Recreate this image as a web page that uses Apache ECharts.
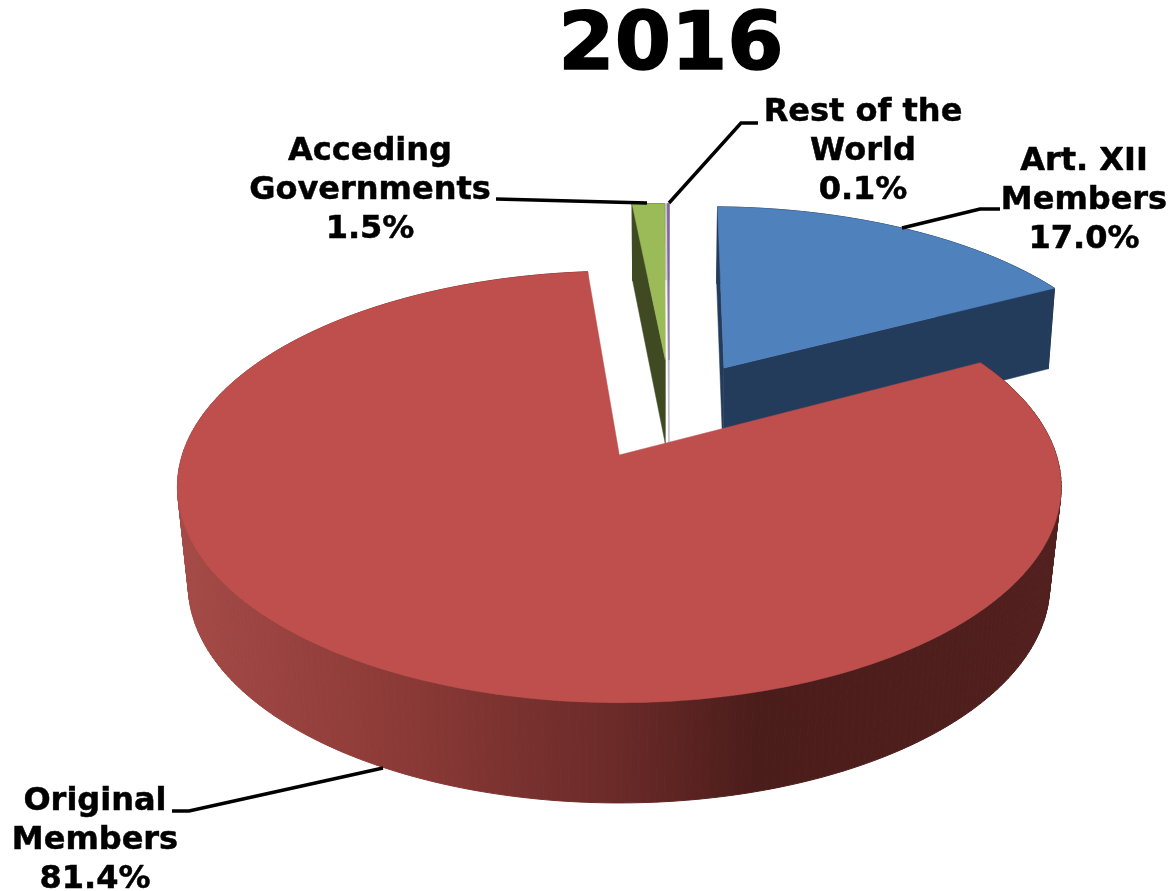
<!DOCTYPE html>
<html>
<head>
<meta charset="utf-8">
<style>html,body{margin:0;padding:0;background:#fff}#c{width:1170px;height:891px}</style>
<script src="https://cdn.jsdelivr.net/npm/echarts@6/dist/echarts.min.js"></script>
</head>
<body>
<div id="c"></div>
<script>
// Data
const titleText = '2016';
const categories = ['Art. XII Members', 'Original Members', 'Acceding Governments', 'Rest of the World'];
const shares = [17.0, 81.4, 1.5, 0.1];
const labelLines = [['Art. XII', 'Members'], ['Original', 'Members'], ['Acceding', 'Governments'], ['Rest of the', 'World']];

// Style: per-slice look
const topColors = ['#4f81bd', '#be4f4d', '#9bbb59', '#8064a2'];
const cutColors = ['#243c5c', '#4a1c1a', '#3f4a22', '#b9b6c2'];
const wallStops = [
  [[0, '#243c5c'], [1, '#243c5c']],
  [[0, '#a54a47'], [0.25, '#8c3a37'], [0.5, '#6a2a28'], [0.66, '#4a1c1a'], [1, '#52201e']],
  [[0, '#3f4a22'], [1, '#3f4a22']],
  [[0, '#b9b6c2'], [1, '#b9b6c2']]
];
const explode = [[0.255, 0.439], [0, 0], [0.113, 0.482], [0.122, 0.482]];
const spinStart = [1, 0.9, 1.16, 1.0];
const spinEnd = [1.2, 1.0, 1.16, 1.0];
const radius = [0.985, 1, 0.965, 0.965];
const labelPos = [[1084, 162], [95, 802], [370, 152], [863, 113]];
const leaders = [
  [[902, 228], [980, 209], [1000, 209]],
  [[383, 768], [189, 811], [172, 811]],
  [[496, 199], [647, 203]],
  [[669, 203], [741, 123], [758, 123]]
];
const fontFamily = '"DejaVu Sans", Verdana, sans-serif';
const labelSize = 32, lineGap = 38.8;

// Projection
const PERSP = 0.148;
const topFace = {cx: 619.3, cy: 455, a: 437, b: 211};
const backBase = {cx: 620, cy: 543.5, a: 430, b: 221};
const frontBase = {cx: 619, cy: 552.7, a: 426, b: 213.2};
const baseFaces = [backBase, frontBase, backBase, backBase];
function project(face, u, v) {
  const d = 1 + PERSP * v;
  return [face.cx + face.a * u / d, face.cy - face.b * v / d];
}
const total = shares.reduce((s, x) => s + x, 0);
const starts = [];
shares.reduce((acc, x, i) => { starts[i] = acc; return acc + x; }, 0);

function sliceShapes(i) {
  const a0 = starts[i] / total * 360 + spinStart[i];
  const a1 = (starts[i] + shares[i]) / total * 360 + spinEnd[i];
  const ex = explode[i], r = radius[i], botFace = baseFaces[i];
  const rim = (face, deg) => {
    const t = deg * Math.PI / 180;
    return project(face, ex[0] + r * Math.sin(t), ex[1] + r * Math.cos(t));
  };
  const steps = Math.max(2, Math.ceil(a1 - a0));
  const arc = face => {
    const pts = [];
    for (let s = 0; s <= steps; s++) pts.push(rim(face, a0 + (a1 - a0) * s / steps));
    return pts;
  };
  const topArc = arc(topFace), botArc = arc(botFace);
  const apexT = project(topFace, ex[0], ex[1]), apexB = project(botFace, ex[0], ex[1]);
  const mid = rim(topFace, (a0 + a1) / 2);
  const interior = [(apexT[0] + mid[0]) / 2, (apexT[1] + mid[1]) / 2];
  const kids = [];
  // outer wall: one quad per step so the silhouette joins top and base rims
  const stops = wallStops[i].map(s => ({offset: s[0], color: s[1]}));
  const wallFill = new echarts.graphic.LinearGradient(177, 0, 1060, 0, stops, true);
  for (let s = 0; s < steps; s++) {
    kids.push({
      type: 'polygon',
      shape: {points: [topArc[s], topArc[s + 1], botArc[s + 1], botArc[s]]},
      style: {fill: wallFill, stroke: wallFill, lineWidth: 1}
    });
  }
  // cut faces: visible if the slice's top lies above the edge on screen
  [[topArc[0], botArc[0]], [topArc[steps], botArc[steps]]].forEach(e => {
    const dx = e[0][0] - apexT[0];
    if (Math.abs(dx) < 1e-6) return;
    const lineY = apexT[1] + (e[0][1] - apexT[1]) * (interior[0] - apexT[0]) / dx;
    if (interior[1] < lineY) {
      kids.push({type: 'polygon', shape: {points: [apexT, e[0], e[1], apexB]},
        style: {fill: cutColors[i], stroke: cutColors[i], lineWidth: 0.5}});
    }
  });
  // top face
  kids.push({
    type: 'polygon',
    shape: {points: [apexT].concat(topArc)},
    style: {fill: topColors[i], stroke: topColors[i], lineWidth: 0.5}
  });
  return {type: 'group', children: kids};
}

function labelShapes(i) {
  const kids = [{type: 'polyline', shape: {points: leaders[i]},
    style: {stroke: '#000', lineWidth: 3.4, fill: null}}];
  const lines = labelLines[i].concat([shares[i].toFixed(1) + '%']);
  lines.forEach((t, n) => kids.push({
    type: 'text',
    style: {x: labelPos[i][0], y: labelPos[i][1] + n * lineGap, text: t, fill: '#000',
      stroke: '#000', lineWidth: 0.5,
      font: 'bold ' + labelSize + 'px ' + fontFamily, textAlign: 'center', textVerticalAlign: 'middle'}
  }));
  return {type: 'group', children: kids};
}

const chart = echarts.init(document.getElementById('c'), null, {renderer: 'canvas'});
chart.setOption({
  animation: false,
  backgroundColor: '#fff',
  title: {text: titleText, left: 666, top: 2, textAlign: 'center',
    textStyle: {fontFamily: fontFamily, fontWeight: 'bold', fontSize: 81, color: '#000',
      textBorderColor: '#000', textBorderWidth: 1.5}},
  series: [
    {type: 'custom', coordinateSystem: 'none', z: 2, silent: true,
     data: categories.map((c, i) => ({name: c, value: shares[i]})),
     // paint back slices first, the large front slice last
     renderItem: (p) => sliceShapes([0, 3, 2, 1][p.dataIndex])},
    {type: 'custom', coordinateSystem: 'none', z: 3, silent: true,
     data: categories.map((c, i) => ({name: c, value: shares[i]})),
     renderItem: (p) => labelShapes(p.dataIndex)}
  ]
});
</script>
</body>
</html>
